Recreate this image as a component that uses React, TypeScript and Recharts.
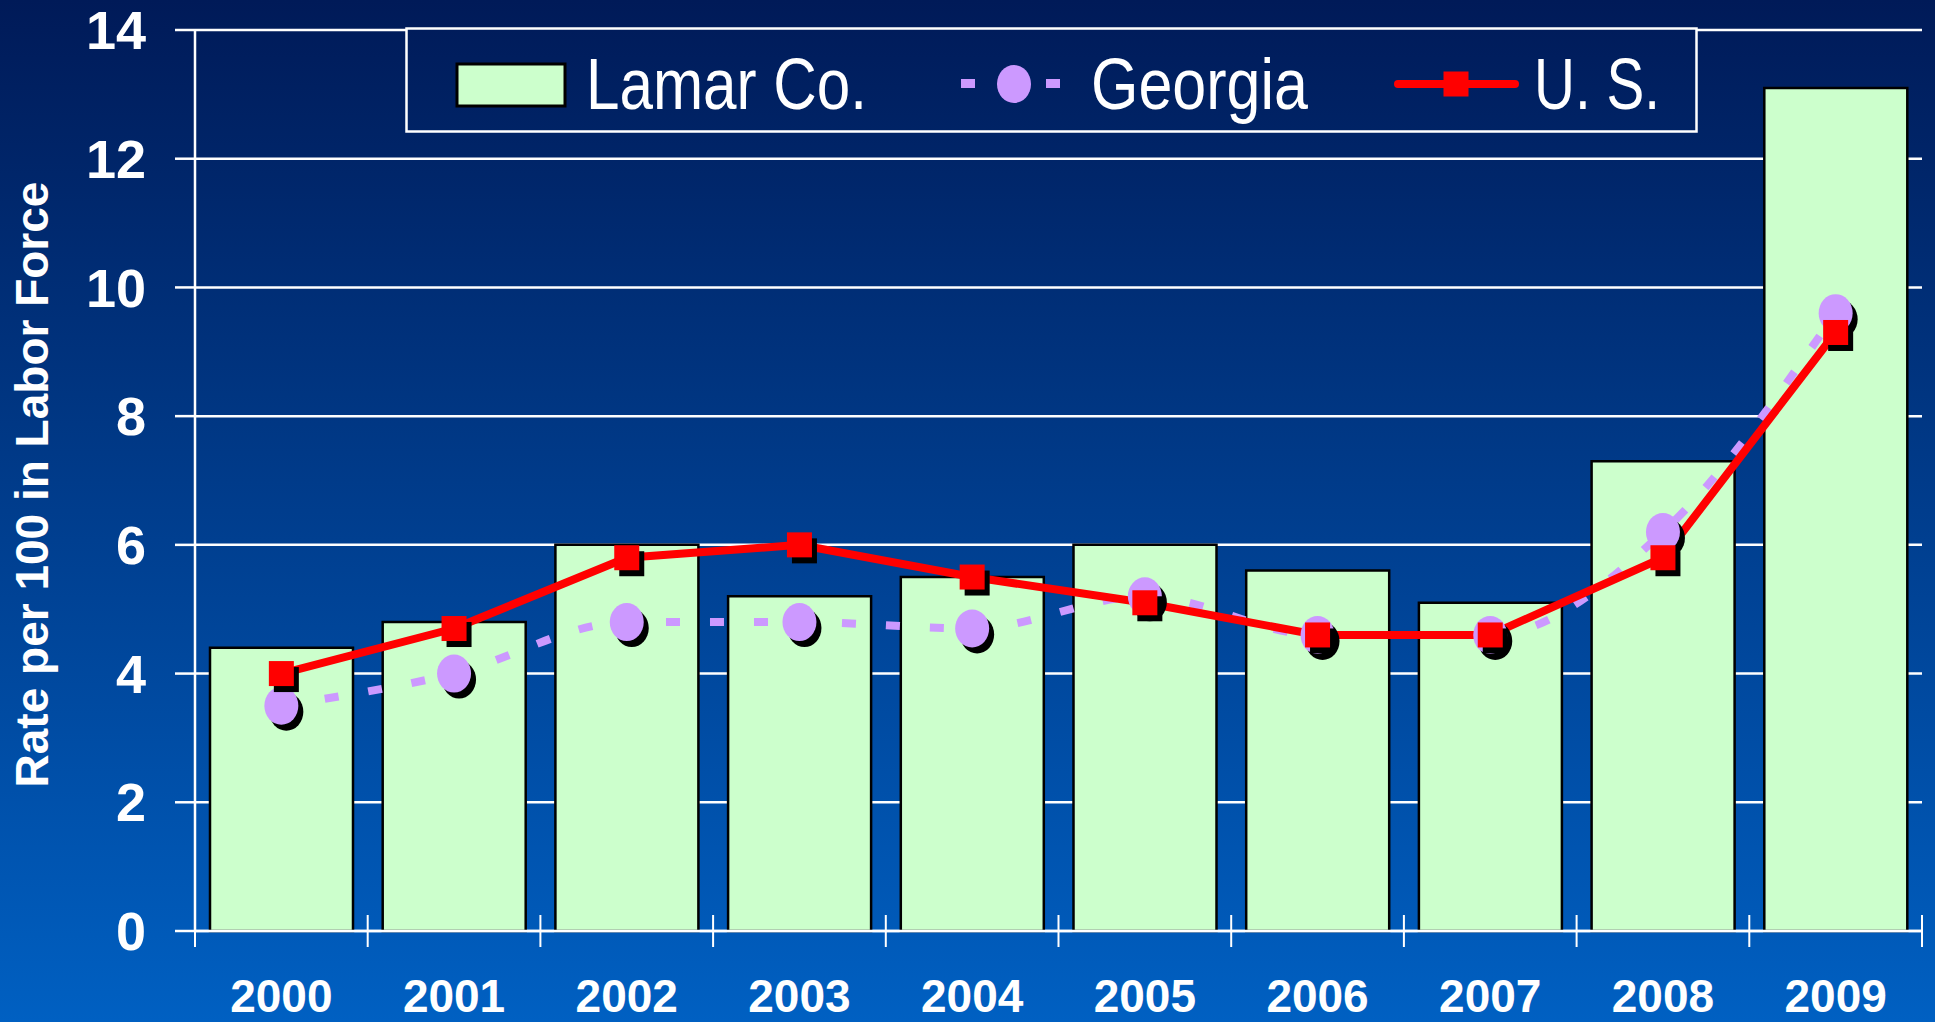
import React from 'react';
import { ComposedChart, Bar, Line, XAxis, YAxis, CartesianGrid, Legend } from 'recharts';

const years = ['2000', '2001', '2002', '2003', '2004', '2005', '2006', '2007', '2008', '2009'];
const lamarCo = [4.4, 4.8, 6.0, 5.2, 5.5, 6.0, 5.6, 5.1, 7.3, 13.1];
const georgia = [3.5, 4.0, 4.8, 4.8, 4.7, 5.2, 4.6, 4.6, 6.2, 9.6];
const unitedStates = [4.0, 4.7, 5.8, 6.0, 5.5, 5.1, 4.6, 4.6, 5.8, 9.3];
const yTicks = [0, 2, 4, 6, 8, 10, 12, 14];
const seriesNames = ['Lamar Co.', 'Georgia', 'U. S.'];
const yAxisTitle = 'Rate per 100 in Labor Force';

const data = years.map((year, i) => ({
  year,
  lamar: lamarCo[i],
  georgia: georgia[i],
  us: unitedStates[i],
}));

const W = 1935;
const H = 1022;
const MARGIN = { top: 30, right: 13, bottom: 0, left: 0 };
const Y_AXIS_W = 195;
const X_AXIS_H = 91;
const GRAD_TOP = '#001A58';
const GRAD_BOTTOM = '#0060C2';
const BAR_FILL = '#CCFFCC';
const GA_COLOR = '#CC99FF';
const US_COLOR = '#FF0000';
const BOLD_FONT = '"Liberation Sans", Arial, Helvetica, sans-serif';
const NARROW_FONT = '"Liberation Sans Narrow", "Arial Narrow", "Liberation Sans", sans-serif';

const plotW = W - MARGIN.left - MARGIN.right - Y_AXIS_W;

const XTick = (props: any) => {
  const { x, y, payload, index } = props;
  const fallbackHalf = plotW / years.length / 2;
  const half = payload && payload.offset ? payload.offset : fallbackHalf;
  return (
    <g>
      <line x1={x - half} x2={x - half} y1={y - 16} y2={y + 16} stroke="#fff" strokeWidth={2} />
      {index === years.length - 1 && (
        <line x1={x + half} x2={x + half} y1={y - 16} y2={y + 16} stroke="#fff" strokeWidth={2} />
      )}
      <text
        x={x}
        y={y + 81}
        textAnchor="middle"
        fill="#fff"
        fontSize={46}
        fontWeight="bold"
        fontFamily={BOLD_FONT}
      >
        {payload.value}
      </text>
    </g>
  );
};

const GeorgiaDot = (p: any) => {
  const { cx, cy, index } = p;
  if (cx == null || cy == null) return <g key={`ga-${index}`} />;
  return (
    <g key={`ga-${index}`}>
      <ellipse cx={cx + 5} cy={cy + 6} rx={17} ry={19} fill="#000" />
      <ellipse cx={cx} cy={cy} rx={17} ry={19} fill={GA_COLOR} />
    </g>
  );
};

const UsDot = (p: any) => {
  const { cx, cy, index } = p;
  if (cx == null || cy == null) return <g key={`us-${index}`} />;
  const s = 25;
  return (
    <g key={`us-${index}`}>
      <rect x={cx - s / 2 + 5} y={cy - s / 2 + 6} width={s} height={s} fill="#000" />
      <rect x={cx - s / 2} y={cy - s / 2} width={s} height={s} fill={US_COLOR} />
    </g>
  );
};

const LEG = { left: 405, top: 27, width: 1293, height: 106 };

const renderLegend = () => (
  <svg width={LEG.width} height={LEG.height} style={{ display: 'block' }}>
    <defs>
      <linearGradient id="legGrad" gradientUnits="userSpaceOnUse" x1={0} y1={-LEG.top} x2={0} y2={H - LEG.top}>
        <stop offset="0%" stopColor={GRAD_TOP} />
        <stop offset="100%" stopColor={GRAD_BOTTOM} />
      </linearGradient>
    </defs>
    <rect x={1.5} y={1.5} width={LEG.width - 3} height={LEG.height - 3} fill="url(#legGrad)" stroke="#fff" strokeWidth={2.5} />
    {/* Lamar Co. */}
    <rect x={52} y={37} width={108} height={42} fill={BAR_FILL} stroke="#000" strokeWidth={3} />
    <text x={181} y={82} fill="#fff" fontSize={72} fontFamily={NARROW_FONT} textLength={281} lengthAdjust="spacingAndGlyphs">
      {seriesNames[0]}
    </text>
    {/* Georgia */}
    <rect x={556} y={52} width={14} height={9} fill={GA_COLOR} />
    <rect x={641} y={52} width={14} height={9} fill={GA_COLOR} />
    <ellipse cx={609} cy={57} rx={17} ry={19} fill={GA_COLOR} />
    <text x={686} y={82} fill="#fff" fontSize={72} fontFamily={NARROW_FONT} textLength={217} lengthAdjust="spacingAndGlyphs">
      {seriesNames[1]}
    </text>
    {/* U. S. */}
    <line x1={993} x2={1110} y1={57} y2={57} stroke={US_COLOR} strokeWidth={8} strokeLinecap="round" />
    <rect x={1051 - 12.5} y={57 - 12.5} width={25} height={25} fill={US_COLOR} />
    <text x={1129} y={82} fill="#fff" fontSize={72} fontFamily={NARROW_FONT} textLength={126} lengthAdjust="spacingAndGlyphs">
      {seriesNames[2]}
    </text>
  </svg>
);

const YTitle = (props: any) => {
  const vb = props.viewBox || { x: 0, y: MARGIN.top, width: Y_AXIS_W, height: H - MARGIN.top - X_AXIS_H };
  const cx = vb.x + 32;
  const cy = vb.y + vb.height / 2 + 4;
  return (
    <text
      x={cx}
      y={cy}
      transform={`rotate(-90 ${cx} ${cy})`}
      textAnchor="middle"
      dominantBaseline="central"
      fill="#fff"
      fontSize={46}
      fontWeight="bold"
      fontFamily={BOLD_FONT}
    >
      {yAxisTitle}
    </text>
  );
};

export default function App() {
  return (
    <div
      style={{
        position: 'absolute',
        left: 0,
        top: 0,
        width: W,
        height: H,
        overflow: 'hidden',
        background: `linear-gradient(to bottom, ${GRAD_TOP}, ${GRAD_BOTTOM})`,
      }}
    >
      <ComposedChart width={W} height={H} data={data} margin={MARGIN}>
        <CartesianGrid horizontal vertical={false} stroke="#fff" strokeWidth={2.5} />
        <XAxis
          dataKey="year"
          height={X_AXIS_H}
          interval={0}
          tickLine={false}
          tickSize={0}
          tickMargin={0}
          axisLine={{ stroke: '#fff', strokeWidth: 2.5 }}
          tick={<XTick />}
        />
        <YAxis
          domain={[0, 14]}
          ticks={yTicks}
          interval={0}
          width={Y_AXIS_W}
          axisLine={{ stroke: '#fff', strokeWidth: 2.5 }}
          tickLine={{ stroke: '#fff', strokeWidth: 2.5 }}
          tickSize={20}
          tickMargin={29}
          tick={{ fill: '#fff', fontSize: 54, fontWeight: 700, fontFamily: BOLD_FONT }}
          label={{ content: YTitle }}
        />
        <YAxis
          yAxisId="right"
          orientation="right"
          domain={[0, 14]}
          width={0}
          tick={false}
          tickLine={false}
          axisLine={{ stroke: '#fff', strokeWidth: 2.5 }}
        />
        <Bar dataKey="lamar" name={seriesNames[0]} fill={BAR_FILL} stroke="#000" strokeWidth={2.5} barSize={143} isAnimationActive={false} />
        <Line
          dataKey="georgia"
          name={seriesNames[1]}
          type="monotone"
          stroke={GA_COLOR}
          strokeWidth={8}
          strokeDasharray="14 30"
          dot={GeorgiaDot}
          activeDot={false}
          isAnimationActive={false}
        />
        <Line
          dataKey="us"
          name={seriesNames[2]}
          type="linear"
          stroke={US_COLOR}
          strokeWidth={8}
          dot={UsDot}
          activeDot={false}
          isAnimationActive={false}
        />
        <Legend
          content={renderLegend}
          layout="horizontal"
          verticalAlign="middle"
          align="center"
          wrapperStyle={{ left: LEG.left, top: LEG.top, width: LEG.width, height: LEG.height }}
        />
      </ComposedChart>
    </div>
  );
}
